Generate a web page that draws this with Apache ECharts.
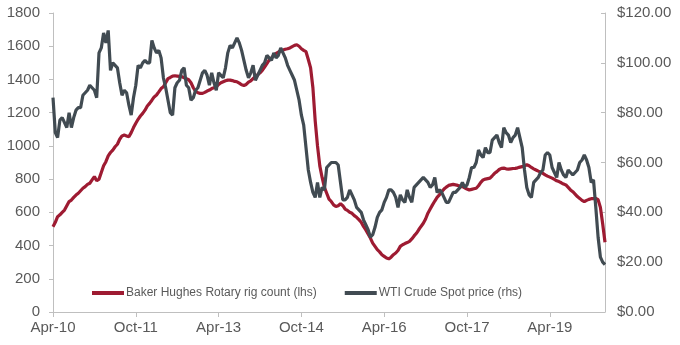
<!DOCTYPE html>
<html>
<head>
<meta charset="utf-8">
<script src="https://cdn.jsdelivr.net/npm/echarts@6/dist/echarts.min.js"></script>
<style>
html,body{margin:0;padding:0;background:#fff;}
#chart{width:680px;height:345px;}
</style>
</head>
<body>
<div id="chart"></div>
<script>
// Semi-monthly observations, Apr-2010 .. Apr-2020 (241 points)
const startYear = 2010, startMonth = 3; // April (0-based)
const monthNames = ['Jan','Feb','Mar','Apr','May','Jun','Jul','Aug','Sep','Oct','Nov','Dec'];

const rigCount = [
  513,540,574,585,600,614,640,665,674,690,704,715,730,745,755,768,775,795,815,790,800,840,880,905,
  940,960,975,995,1010,1040,1060,1065,1060,1055,1080,1110,1136,1160,1180,1196,1215,1240,1256,1275,1295,1306,1325,1345,
  1356,1380,1405,1412,1420,1422,1420,1418,1417,1410,1405,1398,1380,1350,1328,1320,1316,1316,1322,1330,1336,1345,1350,1356,
  1370,1380,1386,1392,1396,1396,1393,1388,1386,1378,1368,1364,1370,1384,1392,1405,1416,1428,1440,1455,1475,1495,1517,1530,
  1545,1557,1565,1572,1577,1582,1585,1590,1598,1605,1609,1600,1585,1575,1567,1520,1470,1350,1150,1000,880,810,750,715,
  680,665,645,635,640,652,640,620,612,600,594,580,570,556,540,515,494,470,445,415,395,375,362,345,
  335,325,320,330,345,355,370,395,405,412,418,425,440,458,474,495,515,534,560,595,620,645,668,690,
  705,725,740,752,762,765,768,765,762,758,755,748,740,734,738,742,745,760,780,795,800,803,806,820,
  835,845,858,865,866,862,860,862,864,865,868,872,875,880,886,880,870,862,855,848,842,835,826,818,
  812,806,798,790,785,778,770,765,750,735,724,710,695,684,672,664,672,678,682,683,684,676,630,530,420
];

const wtiPrice = [
  86,72,70,77,78,76,74,80,74,78,81,82,82,87,88,89,91,90,89,86,104,106,112,108,
  113,97,100,99,98,92,87,89,88,83,79,86,91,99,98,100,101,100,100,109,106,104,105,102,
  94,90,85,80,79,90,92,93,97,98,91,90,85,86,89,90,93,96,97,95,91,96,92,89,
  96,95,94,98,104,107,106,108,110,108,105,101,97,94,96,99,93,95,97,99,100,103,102,101,
  104,102,103,106,104,102,99,97,95,93,89,85,79,75,66,57,52,48,46,52,46,50,49,58,
  59,60,60,60,59,52,45,45,46,49,47,45,42,41,40,37,35,33,30,31,34,38,40,41,
  44,46,49,49,48,46,42,47,45,44,49,46,44,50,51,52,53,54,53,52,50,51,54,48,
  49,48,46,44,44,46,48,48,49,50,52,50,51,54,58,58,60,65,63,62,66,64,64,69,
  70,71,68,66,74,72,71,68,70,71,74,70,66,57,50,47,46,52,53,54,56,57,63,64,
  63,58,56,54,60,57,55,54,57,56,55,56,57,60,61,63,61,58,52,53,42,30,22,20,19
];

const seriesNames = ['Baker Hughes Rotary rig count (lhs)', 'WTI Crude Spot price (rhs)'];

const categories = rigCount.map(function (_, i) {
  const m = startMonth + Math.floor(i / 2);
  const y = startYear + Math.floor(m / 12);
  return monthNames[m % 12] + '-' + String(y).slice(2);
});

const labelColor = '#595959';
const axisColor = '#bfbfbf';
const font = 'Liberation Sans, Arial, sans-serif';

const chart = echarts.init(document.getElementById('chart'), null, {renderer: 'canvas'});
chart.setOption({
  animation: false,
  backgroundColor: '#ffffff',
  grid: {left: 53, right: 75, top: 13, bottom: 33, containLabel: false, outerBoundsMode: 'none'},
  legend: {
    left: 87, top: 282,
    itemWidth: 32, itemHeight: 4, itemGap: 28,
    icon: 'rect',
    data: seriesNames,
    textStyle: {color: labelColor, fontSize: 12, fontFamily: font, padding: [0, 0, 0, -3]}
  },
  xAxis: {
    type: 'category',
    data: categories,
    boundaryGap: false,
    axisLine: {lineStyle: {color: axisColor, width: 1}},
    axisTick: {show: true, interval: 35, length: 5, lineStyle: {color: axisColor}},
    axisLabel: {interval: 35, color: labelColor, fontSize: 15, fontFamily: font, margin: 8},
    splitLine: {show: false}
  },
  yAxis: [
    {
      type: 'value', min: 0, max: 1800, interval: 200, position: 'left',
      axisLine: {show: true, lineStyle: {color: axisColor}},
      axisTick: {show: true, length: 4, lineStyle: {color: axisColor}},
      axisLabel: {color: labelColor, fontSize: 15, fontFamily: font, margin: 13,
        formatter: function (v) { return String(v); }},
      splitLine: {show: false}
    },
    {
      type: 'value', min: 0, max: 120, interval: 20, position: 'right',
      axisLine: {show: true, lineStyle: {color: axisColor}},
      axisTick: {show: true, inside: true, length: 4, lineStyle: {color: axisColor}},
      axisLabel: {color: labelColor, fontSize: 15, fontFamily: font, margin: 12,
        formatter: function (v) { return '$' + v.toFixed(2); }},
      splitLine: {show: false}
    }
  ],
  series: [
    {
      name: seriesNames[0], type: 'line', yAxisIndex: 0, data: rigCount,
      showSymbol: false, symbol: 'none', smooth: false,
      lineStyle: {color: '#9e1b32', width: 3.2}, itemStyle: {color: '#9e1b32'}
    },
    {
      name: seriesNames[1], type: 'line', yAxisIndex: 1, data: wtiPrice,
      showSymbol: false, symbol: 'none', smooth: false,
      lineStyle: {color: '#414b52', width: 3.2}, itemStyle: {color: '#414b52'}
    }
  ]
});
</script>
</body>
</html>
